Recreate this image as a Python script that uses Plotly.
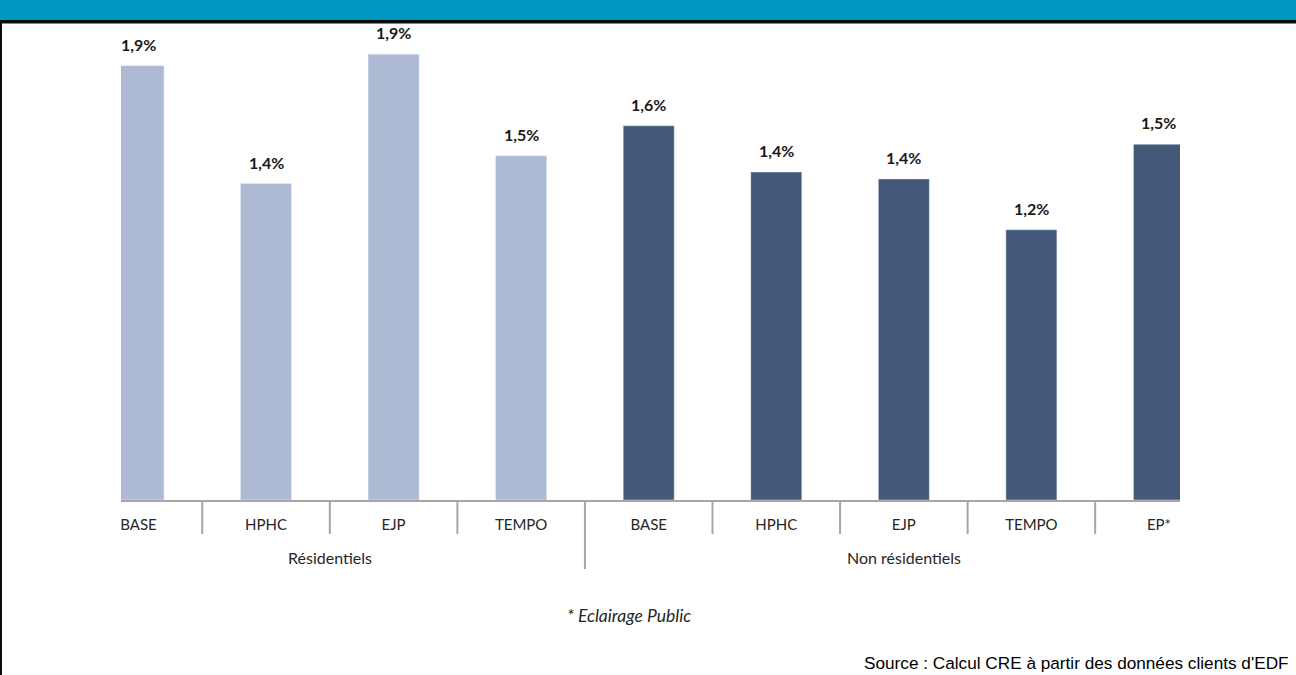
import plotly.graph_objects as go

# ---- data ----
groups = ["Résidentiels", "Non résidentiels"]
res_tariffs = ["BASE", "HPHC", "EJP", "TEMPO"]
res_values = [1.88, 1.37, 1.93, 1.49]
nonres_tariffs = ["BASE", "HPHC", "EJP", "TEMPO", "EP*"]
nonres_values = [1.62, 1.42, 1.39, 1.17, 1.54]

footnote = "* Eclairage Public"
source = "Source : Calcul CRE à partir des données clients d'EDF"

COL_RES = "#AEBAD3"
COL_NONRES = "#44587A"
W, H = 1296, 675
L, R, T, B = 121, 116, 30, 175
PW, PH = W - L - R, H - T - B


def px_x(px):
    return (px - L) / PW


def px_y(py):
    return (H - B - py) / PH


def fmt(v):
    return f"{v:.1f}".replace(".", ",") + "%"


n_res = len(res_tariffs)
x_res = list(range(n_res))
x_non = list(range(n_res, n_res + len(nonres_tariffs)))

fig = go.Figure()
fig.add_trace(go.Bar(x=x_res, y=res_values, marker_color=COL_RES, width=0.4,
                     name=groups[0], showlegend=False, hoverinfo="y"))
fig.add_trace(go.Bar(x=x_non, y=nonres_values, marker_color=COL_NONRES, width=0.4,
                     name=groups[1], showlegend=False, hoverinfo="y"))

annotations = []
for xs, vs in ((x_res, res_values), (x_non, nonres_values)):
    for xi, v in zip(xs, vs):
        annotations.append(dict(x=xi, y=v, xref="x", yref="y", text="<b>" + fmt(v) + "</b>",
                                showarrow=False, yanchor="bottom", yshift=10,
                                font=dict(family="Lato", size=16, color="#1a1a1a")))

# group labels
annotations.append(dict(x=(x_res[0] + x_res[-1]) / 2, y=px_y(557), xref="x", yref="paper",
                        text=groups[0], showarrow=False, yanchor="middle",
                        font=dict(family="Lato", size=16, color="#262626")))
annotations.append(dict(x=(x_non[0] + x_non[-1]) / 2, y=px_y(557), xref="x", yref="paper",
                        text=groups[1], showarrow=False, yanchor="middle",
                        font=dict(family="Lato", size=16, color="#262626")))
annotations.append(dict(x=px_x(629), y=px_y(615), xref="paper", yref="paper",
                        text="<i>" + footnote + "</i>", showarrow=False, yanchor="middle",
                        font=dict(family="Lato", size=17.5, color="#262626")))
annotations.append(dict(x=px_x(1291), y=px_y(663), xref="paper", yref="paper",
                        text=source, showarrow=False, xanchor="right", yanchor="middle",
                        font=dict(family="Liberation Sans", size=17.2, color="#000000")))

shapes = []
all_x = x_res + x_non
for xi in all_x[:-1]:
    long = (xi == x_res[-1])
    shapes.append(dict(type="line", xref="x", yref="paper", x0=xi + 0.5, x1=xi + 0.5,
                       y0=0, y1=px_y(569 if long else 534),
                       line=dict(color="#A6A6A6", width=2)))
# header band and frame
shapes.append(dict(type="rect", xref="paper", yref="paper", x0=px_x(0), x1=px_x(W),
                   y0=px_y(20), y1=px_y(0), fillcolor="#0098C3", line=dict(width=0), layer="below"))
shapes.append(dict(type="rect", xref="paper", yref="paper", x0=px_x(0), x1=px_x(W),
                   y0=px_y(23.5), y1=px_y(20), fillcolor="#0A0A0A", line=dict(width=0), layer="below"))
shapes.append(dict(type="rect", xref="paper", yref="paper", x0=px_x(0), x1=px_x(2),
                   y0=px_y(H), y1=px_y(20), fillcolor="#0A0A0A", line=dict(width=0), layer="below"))

fig.update_layout(
    width=W, height=H, margin=dict(l=L, r=R, t=T, b=B),
    paper_bgcolor="white", plot_bgcolor="white",
    annotations=annotations, shapes=shapes, bargap=0.6,
    xaxis=dict(range=[-0.137, 8.165], tickvals=all_x, ticktext=res_tariffs + nonres_tariffs,
               showgrid=False, zeroline=False, showline=True, linecolor="#A6A6A6", linewidth=2,
               ticks="", tickfont=dict(family="Lato", size=15, color="#262626"),
               ticklabelstandoff=10),
    yaxis=dict(range=[0, PH / 231], visible=False, showgrid=False, zeroline=False),
)

fig.write_html("out.html", config={"displayModeBar": False},
               post_script="document.body.style.margin='0';document.body.style.overflow='hidden';")
